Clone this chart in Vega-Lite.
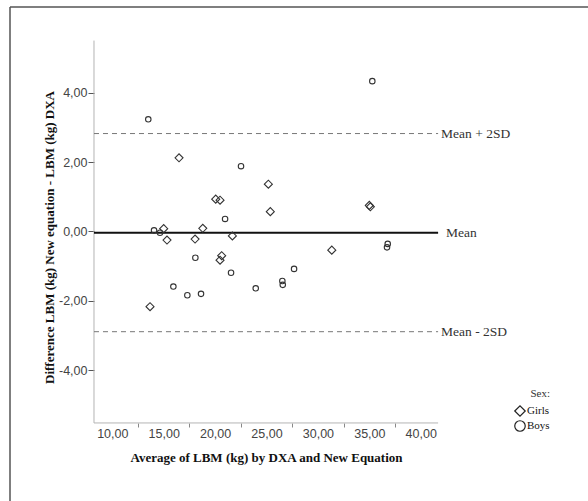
{
  "$schema": "https://vega.github.io/schema/vega-lite/v6.json",
  "width": 578,
  "height": 494,
  "autosize": {"type": "none"},
  "padding": {"left": 10, "top": 7, "right": 0, "bottom": 0},
  "background": "white",
  "config": {
    "view": {"stroke": "#555555", "strokeWidth": 1.5, "strokeDash": [578, 1072, 494, 0]},
    "axis": {"grid": false, "domain": false},
    "legend": {
      "orient": "none", "legendX": 504, "legendY": 381,
      "titleFont": "Liberation Serif", "titleFontSize": 11, "titleFontWeight": "normal", "titleColor": "#333333",
      "titleAnchor": "end", "titlePadding": 6,
      "labelFont": "Liberation Serif", "labelFontSize": 11, "labelColor": "#111111", "labelOffset": 1,
      "symbolSize": 110, "symbolStrokeWidth": 1.2, "symbolStrokeColor": "#222222", "symbolFillColor": "transparent",
      "rowPadding": -1, "padding": 0
    }
  },
  "datasets": {
    "points": [
      {"sex": "Boys", "avg": 13.50, "diff": 3.23},
      {"sex": "Boys", "avg": 14.06, "diff": 0.03},
      {"sex": "Boys", "avg": 14.64, "diff": -0.04},
      {"sex": "Boys", "avg": 18.08, "diff": -0.76},
      {"sex": "Boys", "avg": 15.94, "diff": -1.59},
      {"sex": "Boys", "avg": 17.30, "diff": -1.84},
      {"sex": "Boys", "avg": 18.63, "diff": -1.80},
      {"sex": "Boys", "avg": 22.52, "diff": 1.88},
      {"sex": "Boys", "avg": 20.97, "diff": 0.36},
      {"sex": "Boys", "avg": 21.55, "diff": -1.19},
      {"sex": "Boys", "avg": 23.95, "diff": -1.64},
      {"sex": "Boys", "avg": 26.54, "diff": -1.43},
      {"sex": "Boys", "avg": 26.58, "diff": -1.54},
      {"sex": "Boys", "avg": 27.68, "diff": -1.08},
      {"sex": "Boys", "avg": 35.29, "diff": 4.33},
      {"sex": "Boys", "avg": 36.79, "diff": -0.36},
      {"sex": "Boys", "avg": 36.72, "diff": -0.46},
      {"sex": "Girls", "avg": 16.49, "diff": 2.12},
      {"sex": "Girls", "avg": 15.00, "diff": 0.08},
      {"sex": "Girls", "avg": 15.32, "diff": -0.25},
      {"sex": "Girls", "avg": 18.05, "diff": -0.22},
      {"sex": "Girls", "avg": 18.80, "diff": 0.09},
      {"sex": "Girls", "avg": 13.67, "diff": -2.17},
      {"sex": "Girls", "avg": 25.18, "diff": 1.36},
      {"sex": "Girls", "avg": 20.06, "diff": 0.93},
      {"sex": "Girls", "avg": 20.48, "diff": 0.90},
      {"sex": "Girls", "avg": 25.37, "diff": 0.57},
      {"sex": "Girls", "avg": 21.68, "diff": -0.13},
      {"sex": "Girls", "avg": 20.64, "diff": -0.70},
      {"sex": "Girls", "avg": 20.48, "diff": -0.83},
      {"sex": "Girls", "avg": 35.00, "diff": 0.75},
      {"sex": "Girls", "avg": 35.10, "diff": 0.71},
      {"sex": "Girls", "avg": 31.35, "diff": -0.54}
    ],
    "lines": [
      {"line": "Mean + 2SD", "diff": 2.82},
      {"line": "Mean", "diff": -0.04},
      {"line": "Mean - 2SD", "diff": -2.89}
    ]
  },
  "layer": [
    {
      "data": {"values": [{}]},
      "layer": [
        {
          "mark": {"type": "rule", "color": "#b4b4b4", "strokeWidth": 1},
          "encoding": {
            "x": {"datum": 8.22, "type": "quantitative", "scale": {"domain": [0.05, 56.27], "nice": false, "zero": false}},
            "y": {"datum": -5.52, "type": "quantitative", "scale": {"domain": [-7.769, 6.467], "nice": false, "zero": false}},
            "y2": {"datum": 5.5}
          }
        },
        {
          "mark": {"type": "rule", "color": "#b4b4b4", "strokeWidth": 1},
          "encoding": {
            "x": {"datum": 8.22, "type": "quantitative", "scale": {"domain": [0.05, 56.27], "nice": false, "zero": false}},
            "x2": {"datum": 41.69},
            "y": {"datum": -5.52, "type": "quantitative", "scale": {"domain": [-7.769, 6.467], "nice": false, "zero": false}}
          }
        }
      ]
    },
    {
      "data": {"name": "lines"},
      "layer": [
        {
          "transform": [{"filter": "datum.line != 'Mean'"}],
          "mark": {"type": "rule", "strokeDash": [5, 4], "color": "#777777", "strokeWidth": 1},
          "encoding": {
            "x": {"datum": 8.22, "type": "quantitative", "scale": {"domain": [0.05, 56.27], "nice": false, "zero": false}},
            "x2": {"datum": 41.69},
            "y": {"field": "diff", "type": "quantitative", "scale": {"domain": [-7.769, 6.467], "nice": false, "zero": false}}
          }
        },
        {
          "transform": [{"filter": "datum.line == 'Mean'"}],
          "mark": {"type": "rule", "color": "#111111", "strokeWidth": 2},
          "encoding": {
            "x": {"datum": 8.22, "type": "quantitative", "scale": {"domain": [0.05, 56.27], "nice": false, "zero": false}},
            "x2": {"datum": 41.69},
            "y": {"field": "diff", "type": "quantitative", "scale": {"domain": [-7.769, 6.467], "nice": false, "zero": false}}
          }
        },
        {
          "transform": [{"filter": "datum.line != 'Mean'"}],
          "mark": {"type": "text", "align": "left", "baseline": "middle", "dx": 3, "font": "Liberation Serif", "fontSize": 13.5, "color": "#333333"},
          "encoding": {
            "x": {"datum": 41.69, "type": "quantitative", "scale": {"domain": [0.05, 56.27], "nice": false, "zero": false}},
            "y": {"field": "diff", "type": "quantitative", "scale": {"domain": [-7.769, 6.467], "nice": false, "zero": false}},
            "text": {"field": "line"}
          }
        },
        {
          "transform": [{"filter": "datum.line == 'Mean'"}],
          "mark": {"type": "text", "align": "left", "baseline": "middle", "dx": 8, "font": "Liberation Serif", "fontSize": 13.5, "color": "#333333"},
          "encoding": {
            "x": {"datum": 41.69, "type": "quantitative", "scale": {"domain": [0.05, 56.27], "nice": false, "zero": false}},
            "y": {"field": "diff", "type": "quantitative", "scale": {"domain": [-7.769, 6.467], "nice": false, "zero": false}},
            "text": {"field": "line"}
          }
        }
      ]
    },
    {
      "data": {"name": "points"},
      "transform": [{"filter": "datum.sex == 'Girls'"}],
      "mark": {"type": "point", "filled": false, "strokeWidth": 1.1, "opacity": 1, "color": "#333333", "size": 64},
      "encoding": {
        "x": {"field": "avg", "type": "quantitative", "scale": {"domain": [0.05, 56.27], "nice": false, "zero": false}},
        "y": {"field": "diff", "type": "quantitative", "scale": {"domain": [-7.769, 6.467], "nice": false, "zero": false}},
        "shape": {
          "field": "sex", "type": "nominal",
          "scale": {"domain": ["Girls", "Boys"], "range": ["diamond", "circle"]},
          "legend": {"title": "Sex:"}
        }
      }
    },
    {
      "data": {"name": "points"},
      "transform": [{"filter": "datum.sex == 'Boys'"}],
      "mark": {"type": "point", "filled": false, "strokeWidth": 1.1, "opacity": 1, "color": "#333333", "size": 30},
      "encoding": {
        "x": {
          "field": "avg", "type": "quantitative",
          "scale": {"domain": [0.05, 56.27], "nice": false, "zero": false},
          "axis": {
            "orient": "bottom", "offset": -78,
            "values": [10, 12.5, 15, 17.5, 20, 22.5, 25, 27.5, 30, 32.5, 35, 37.5, 40],
            "labelExpr": "datum.value % 5 == 0 ? replace(format(datum.value, '.2f'), '.', ',') : ''",
            "labelOverlap": false,
            "tickSize": 4, "tickColor": "#888888",
            "tickOpacity": {"condition": {"test": "datum.value % 5 == 0", "value": 0}, "value": 1},
            "labelFont": "Liberation Sans", "labelFontSize": 12.5, "labelColor": "#444444", "labelPadding": 0,
            "title": "Average of LBM (kg) by DXA and New Equation",
            "titleFont": "Liberation Serif", "titleFontSize": 13, "titleFontWeight": "bold", "titleColor": "#111111",
            "titleX": 256, "titleY": 34, "titleBaseline": "middle", "titleAlign": "center"
          }
        },
        "y": {
          "field": "diff", "type": "quantitative",
          "scale": {"domain": [-7.769, 6.467], "nice": false, "zero": false},
          "axis": {
            "orient": "left", "offset": -84,
            "values": [-4, -2, 0, 2, 4],
            "labelExpr": "(datum.value < 0 ? '-' : '') + replace(format(abs(datum.value), '.2f'), '.', ',')",
            "tickSize": 6, "tickColor": "#555555",
            "labelFont": "Liberation Sans", "labelFontSize": 12.5, "labelColor": "#444444", "labelPadding": 1,
            "title": "Difference LBM (kg) New equation - LBM (kg) DXA",
            "titleFont": "Liberation Serif", "titleFontSize": 13, "titleFontWeight": "bold", "titleColor": "#111111",
            "titleX": -44.5, "titleY": 230, "titleAngle": -90, "titleBaseline": "middle", "titleAlign": "center"
          }
        },
        "shape": {
          "field": "sex", "type": "nominal",
          "scale": {"domain": ["Girls", "Boys"], "range": ["diamond", "circle"]},
          "legend": {"title": "Sex:"}
        }
      }
    }
  ]
}
